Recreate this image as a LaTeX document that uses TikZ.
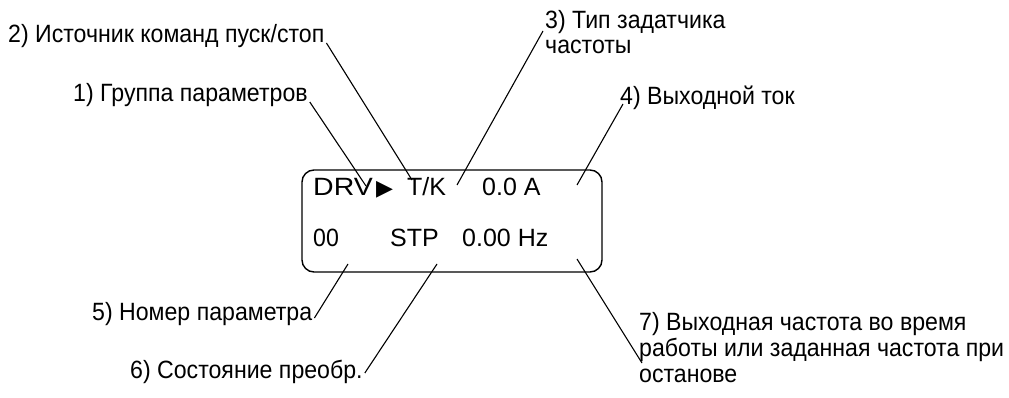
\documentclass[tikz,border=0pt]{standalone}
\usepackage{fontspec}
\setmainfont{Liberation Sans}
\newfontfamily\lblfont[FakeStretch=0.925]{Liberation Sans}
\newfontfamily\widefont[FakeStretch=1.14]{Liberation Sans}
\newfontfamily\symfont{DejaVu Sans}
\begin{document}
\begin{tikzpicture}[x=1pt,y=-1pt,
  lbl/.style={anchor=base west,inner sep=0pt,font=\lblfont\fontsize{25}{28}\selectfont},
  disp/.style={anchor=base west,inner sep=0pt,font=\fontsize{25}{28}\selectfont},
  lead/.style={line width=1.1pt},
  panel/.style={draw,line width=1.4pt,rounded corners=12pt}]
\useasboundingbox (0,0) rectangle (1009,398);
% display panel
\draw[panel] (302,170) rectangle (602,272);
\node[disp,font=\widefont\fontsize{25}{28}\selectfont] (drv) at (313,196) {DRV};
\node[disp,font=\symfont\fontsize{22}{24}\selectfont] (tri) at (376,196) {▶};
\node[disp] (tk) at (407,196) {T/K};
\node[disp] (cur) at (482,196) {0.0 A};
\node[disp,font=\lblfont\fontsize{25}{28}\selectfont] (num) at (313,246) {00};
\node[disp] (stp) at (390,246) {STP};
\node[disp] (hz) at (462,246) {0.00 Hz};
% labels
\node[lbl] (l2) at (8,43) {2) Источник команд пуск/стоп};
\node[lbl] (l1) at (73,102) {1) Группа параметров};
\node[lbl] (l3a) at (545,29) {3) Тип задатчика};
\node[lbl] (l3b) at (545,54) {частоты};
\node[lbl] (l4) at (620,105) {4) Выходной ток};
\node[lbl] (l5) at (92,320) {5) Номер параметра};
\node[lbl] (l6) at (130,378) {6) Состояние преобр.};
\node[lbl] (l7a) at (639,330) {7) Выходная частота во время};
\node[lbl] (l7b) at (639,356) {работы или заданная частота при};
\node[lbl] (l7c) at (639,382) {останове};
% leader end points
\coordinate (e1) at (366,186);
\coordinate (e2) at (412,180);
\coordinate (e3) at (457,185);
\coordinate (e4) at (577,185);
\coordinate (e5) at (348,264);
\coordinate (e6) at (437,264);
\coordinate (e7) at (577,259);
\draw[lead] ([xshift=2pt]l1.base east) -- (e1);
\draw[lead] ([xshift=2pt]l2.base east) -- (e2);
\draw[lead] ([xshift=-2pt,yshift=-2pt]l3a.base west) -- (e3);
\draw[lead] ([xshift=3pt,yshift=1pt]l4.base west) -- (e4);
\draw[lead] ([xshift=2pt,yshift=2pt]l5.base east) -- (e5);
\draw[lead] ([xshift=2pt,yshift=5pt]l6.base east) -- (e6);
\draw[lead] ([xshift=3pt,yshift=-7pt]l7b.base west) -- (e7);
\end{tikzpicture}
\end{document}
